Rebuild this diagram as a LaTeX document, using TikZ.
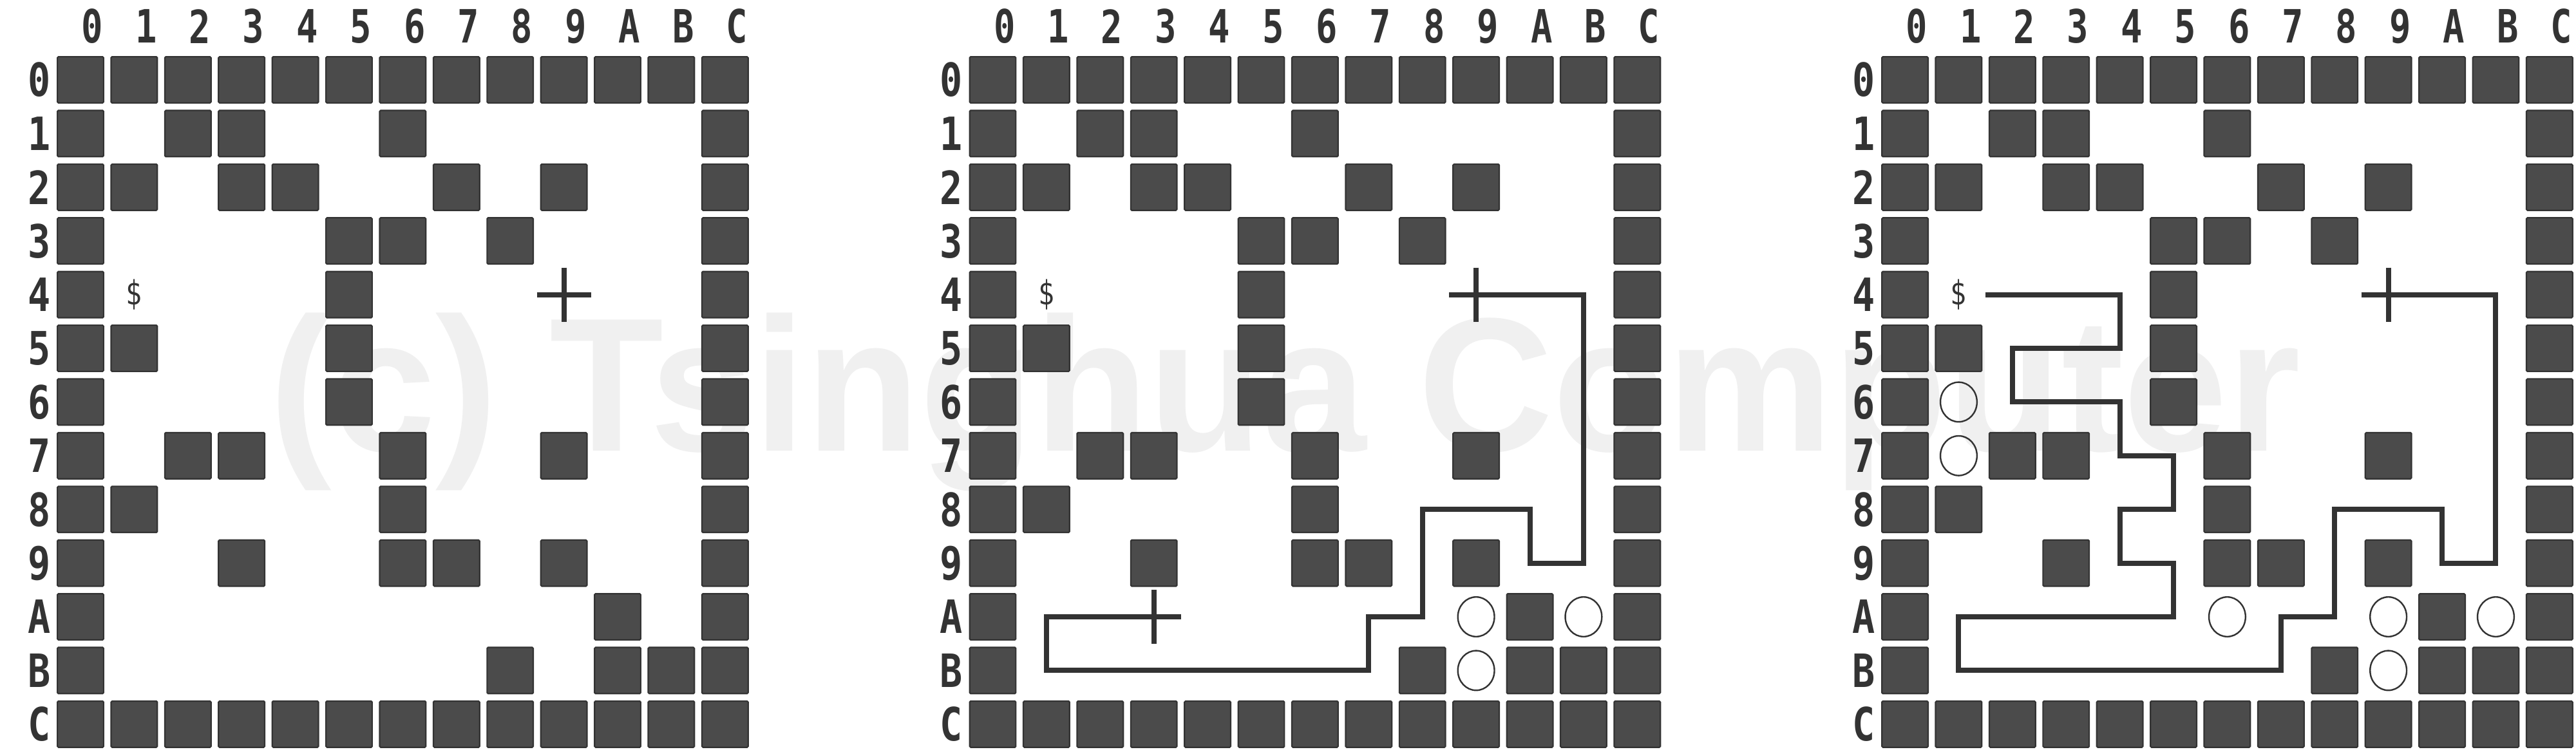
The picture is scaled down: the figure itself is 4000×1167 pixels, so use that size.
\documentclass[tikz,border=0pt]{standalone}
\usepackage{fontspec}
\newfontfamily\labfont{DejaVu Sans Mono}
\newfontfamily\wmfont{Liberation Sans}
\definecolor{wallfill}{HTML}{4B4B4B}
\definecolor{walledge}{HTML}{333333}
\definecolor{ink}{HTML}{333333}
\definecolor{wmgray}{HTML}{F0F0F0}
\tikzset{
  wallcell/.style={fill=wallfill,draw=walledge,line width=0.55pt,rounded corners=0.4pt},
  trail/.style={draw=ink,line width=2pt,line join=miter,line cap=butt},
  crossmark/.style={draw=ink,line width=2pt},
  coin/.style={draw=ink,line width=0.6pt},
  lab/.style={inner sep=0pt,text=ink,font=\labfont\bfseries\fontsize{17.8}{17.8}\selectfont},
  money/.style={inner sep=0pt,text=ink,font=\labfont\fontsize{13}{13}\selectfont},
}
\newcommand{\mazegrid}[1]{%
  \begin{scope}[shift={(125+#1*1416.5,124)},x=20.85pt,y=-20.85pt]
    \foreach \r/\cols in {0/{0,1,2,3,4,5,6,7,8,9,10,11,12},
                          1/{0,2,3,6,12},
                          2/{0,1,3,4,7,9,12},
                          3/{0,5,6,8,12},
                          4/{0,5,12},
                          5/{0,1,5,12},
                          6/{0,5,12},
                          7/{0,2,3,6,9,12},
                          8/{0,1,6,12},
                          9/{0,3,6,7,9,12},
                          10/{0,10,12},
                          11/{0,8,10,11,12},
                          12/{0,1,2,3,4,5,6,7,8,9,10,11,12}}{
      \foreach \c in \cols {
        \draw[wallcell] (\c-0.43,\r-0.43) rectangle (\c+0.43,\r+0.43);
      }
    }
    \foreach \c/\t in {0/0,1/1,2/2,3/3,4/4,5/5,6/6,7/7,8/8,9/9,10/A,11/B,12/C}{
      \node[lab] (col#1-\c) at (\c+0.22,-1) {\scalebox{0.78}[1]{\t}};
      \node[lab] (row#1-\c) at (-0.77,\c) {\scalebox{0.82}[1]{\t}};
    }
    \node[money] (cash#1) at (1,4) {\scalebox{0.8}[1]{\$}};
  \end{scope}
}
\begin{document}
\begin{tikzpicture}[x=0.25pt,y=-0.25pt]
\useasboundingbox (0,0) rectangle (4000,1167);
\fill[white] (0,0) rectangle (4000,1167);
% watermark
\node[anchor=base west,inner sep=0pt,text=wmgray,font=\wmfont\bfseries\fontsize{74}{74}\selectfont] (wm) at (418,700) {\scalebox{0.98}[1]{(c) Tsinghua Computer}};
% three grids
\mazegrid{0}
\mazegrid{1}
\mazegrid{2}
% grid 1: target cross
\begin{scope}[shift={(125,124)},x=20.85pt,y=-20.85pt]
  \coordinate (g0t) at (9,4);
  \draw[crossmark] ([xshift=-10.5pt]g0t) -- ([xshift=10.5pt]g0t) ([yshift=10.5pt]g0t) -- ([yshift=-10.5pt]g0t);
\end{scope}
% grid 2
\begin{scope}[shift={(1541.5,124)},x=20.85pt,y=-20.85pt]
  \coordinate (g1t) at (9,4);
  \coordinate (g1e) at (3,10);
  \draw[crossmark] ([xshift=-10.5pt]g1t) -- ([xshift=10.5pt]g1t) ([yshift=10.5pt]g1t) -- ([yshift=-10.5pt]g1t);
  \draw[crossmark] ([xshift=-10.5pt]g1e) -- ([xshift=10.5pt]g1e) ([yshift=10.5pt]g1e) -- ([yshift=-10.5pt]g1e);
  \draw[trail] (g1t) -- (11,4) -- (11,9) -- (10,9) -- (10,8) -- (8,8) -- (8,10) -- (7,10) -- (7,11) -- (1,11) -- (1,10) -- (g1e);
  \foreach \c/\r in {9/10,11/10,9/11}{
    \draw[coin] (\c,\r) ellipse [x radius=7.1pt,y radius=7.7pt];
  }
\end{scope}
% grid 3
\begin{scope}[shift={(2958,124)},x=20.85pt,y=-20.85pt]
  \coordinate (g2t) at (9,4);
  \coordinate (g2e) at (1.5,4);
  \draw[crossmark] ([xshift=-10.5pt]g2t) -- ([xshift=10.5pt]g2t) ([yshift=10.5pt]g2t) -- ([yshift=-10.5pt]g2t);
  \draw[trail] (g2t) -- (11,4) -- (11,9) -- (10,9) -- (10,8) -- (8,8) -- (8,10) -- (7,10) -- (7,11) -- (1,11) -- (1,10) -- (5,10) -- (5,9) -- (4,9) -- (4,8) -- (5,8) -- (5,7) -- (4,7) -- (4,6) -- (2,6) -- (2,5) -- (4,5) -- (4,4) -- (g2e);
  \foreach \c/\r in {1/6,1/7,6/10,9/10,11/10,9/11}{
    \draw[coin] (\c,\r) ellipse [x radius=7.1pt,y radius=7.7pt];
  }
\end{scope}
\end{tikzpicture}
\end{document}
